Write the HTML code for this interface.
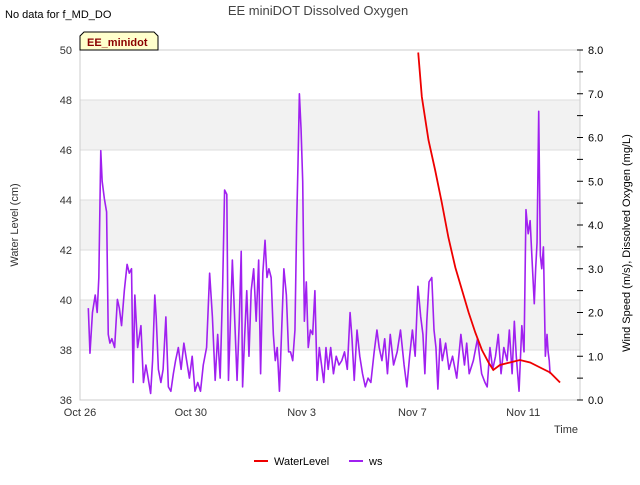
<!DOCTYPE html>
<html><head><meta charset="utf-8"><style>
body{margin:0;background:#fff;font-family:"Liberation Sans",sans-serif;}
</style></head><body>
<svg width="640" height="480" xmlns="http://www.w3.org/2000/svg" font-family="Liberation Sans, sans-serif">
<g id="bands"></g>
<g id="grid"></g>
<rect x="80" y="50" width="500" height="350" fill="none" stroke="#ccc"/>
<g id="axes"></g>
<g id="series"></g>
<text x="5" y="18" font-size="11" fill="#000">No data for f_MD_DO</text>
<text x="318" y="15" font-size="13" text-anchor="middle" fill="#444">EE miniDOT Dissolved Oxygen</text>
<g>
<path d="M80,50 L80,36 L84,32 L154,32 L158,36 L158,50 Z" fill="#ffffcc" stroke="#000" stroke-width="1"/>
<text x="87" y="46" font-size="11" font-weight="bold" fill="#8b0000">EE_minidot</text></g>
<text x="18" y="225" font-size="11" fill="#333" text-anchor="middle" transform="rotate(-90 18 225)">Water Level (cm)</text>
<text x="630" y="243" font-size="11" fill="#000" text-anchor="middle" transform="rotate(-90 630 243)">Wind Speed (m/s), Dissolved Oxygen (mg/L)</text>
<text x="578" y="433" font-size="11" fill="#333" text-anchor="end">Time</text>
<g>
<line x1="254" y1="461" x2="268" y2="461" stroke="#e00" stroke-width="2"/>
<text x="274" y="465" font-size="11" fill="#000">WaterLevel</text>
<line x1="349" y1="461" x2="363" y2="461" stroke="#a020f0" stroke-width="2"/>
<text x="369" y="465" font-size="11" fill="#000">ws</text></g>
</svg>
<script>
const xTickLabels=["Oct 26","Oct 30","Nov 3","Nov 7","Nov 11"];
const xTickDays=[0,4,8,12,16];
const leftTicks=[36,38,40,42,44,46,48,50];
const rightTicks=[0,1,2,3,4,5,6,7,8];
const wlDays=[12.21,12.34,12.58,12.82,13.06,13.30,13.55,13.79,14.03,14.27,14.51,14.75,14.92,15.16,15.52,15.88,16.25,16.61,16.97,17.33];
const wlVals=[49.9,48.13,46.4,45.2,43.9,42.5,41.3,40.4,39.5,38.7,38.0,37.5,37.2,37.4,37.5,37.6,37.5,37.3,37.1,36.7];
const wsDays=[0.3,0.36,0.45,0.55,0.62,0.68,0.75,0.8,0.88,0.96,1.02,1.08,1.15,1.25,1.35,1.42,1.5,1.6,1.7,1.78,1.86,1.92,1.98,2.08,2.2,2.29,2.38,2.46,2.55,2.62,2.7,2.75,2.83,2.92,3.0,3.1,3.19,3.28,3.37,3.45,3.55,3.65,3.75,3.85,3.95,4.05,4.15,4.25,4.35,4.45,4.57,4.68,4.78,4.88,4.97,5.06,5.15,5.22,5.3,5.36,5.42,5.5,5.6,5.67,5.75,5.82,5.87,5.94,6.02,6.1,6.18,6.27,6.36,6.45,6.52,6.6,6.68,6.75,6.82,6.9,6.98,7.05,7.12,7.2,7.28,7.36,7.45,7.53,7.6,7.68,7.76,7.82,7.87,7.92,7.98,8.04,8.1,8.17,8.24,8.32,8.4,8.48,8.56,8.64,8.72,8.8,8.88,8.96,9.05,9.15,9.25,9.35,9.45,9.55,9.65,9.75,9.82,9.9,10.0,10.1,10.2,10.3,10.4,10.5,10.62,10.72,10.8,10.9,11.0,11.1,11.2,11.32,11.45,11.57,11.7,11.8,11.9,12.0,12.1,12.2,12.3,12.38,12.45,12.52,12.6,12.7,12.78,12.85,12.92,13.0,13.08,13.2,13.32,13.45,13.6,13.75,13.88,13.96,14.05,14.2,14.35,14.5,14.62,14.7,14.8,14.9,15.0,15.1,15.2,15.3,15.42,15.5,15.6,15.68,15.75,15.85,15.95,16.03,16.1,16.18,16.25,16.32,16.4,16.45,16.5,16.56,16.62,16.67,16.73,16.8,16.86,16.9,16.94,16.97,17.03,17.1,17.16,17.22,17.28,17.33,17.39];
const wsVals=[2.1,1.07,2.0,2.4,2.0,2.8,5.7,5.0,4.6,4.3,1.5,1.3,1.4,1.2,2.3,2.1,1.7,2.5,3.1,2.9,3.0,0.4,2.4,1.2,1.7,0.4,0.8,0.5,0.15,0.9,2.4,1.9,0.7,0.4,0.7,1.9,0.3,0.2,0.6,0.9,1.2,0.7,1.3,0.9,0.5,1.0,0.2,0.4,0.2,0.8,1.2,2.9,1.9,0.45,1.5,0.5,2.6,4.8,4.7,0.45,1.6,3.2,1.6,0.45,1.8,3.4,0.3,1.4,2.5,1.0,2.5,3.0,1.8,3.2,0.6,2.9,3.65,2.8,3.0,2.8,1.5,0.9,1.2,0.2,1.6,3.0,2.4,1.1,1.1,0.9,1.6,4.0,5.4,7.0,6.2,5.0,1.8,2.7,1.2,1.6,1.5,2.5,0.45,1.2,0.8,0.4,1.2,0.7,1.2,0.6,1.0,0.8,0.9,1.1,0.7,2.0,1.4,0.45,1.6,1.0,0.6,0.3,0.5,0.4,1.1,1.6,1.2,0.9,1.4,0.6,1.5,0.8,1.1,1.6,0.8,0.3,1.0,1.6,1.0,2.6,1.9,1.5,0.6,1.8,2.7,2.8,1.6,1.2,0.25,1.4,0.9,1.3,0.7,1.0,0.5,1.5,0.8,1.3,0.6,0.9,1.4,0.6,0.4,0.3,1.2,0.7,1.0,1.5,0.6,1.2,0.9,1.6,0.6,1.8,1.0,0.2,1.7,1.1,4.35,3.8,4.1,3.2,2.2,3.0,3.6,6.6,3.3,3.0,3.5,1.0,1.5,1.1,0.9,0.6];
const NS='http://www.w3.org/2000/svg';
const X0=80,X1=580,Y0=400,Y1=50,DAYPX=110.8/4;
const xs=d=>X0+d*DAYPX;
const yl=v=>Y0-(v-36)*(Y0-Y1)/14;
const yr=v=>Y0-v*(Y0-Y1)/8;
function mk(tag,attrs,parent){const e=document.createElementNS(NS,tag);for(const k in attrs)e.setAttribute(k,attrs[k]);document.getElementById(parent).appendChild(e);return e;}
[[46,48],[42,44],[38,40]].forEach(b=>{const r=mk('rect',{x:X0,y:yl(b[1]),width:X1-X0,height:yl(b[0])-yl(b[1]),fill:'#f2f2f2'},'bands');

});
leftTicks.forEach(v=>{const l=mk('line',{x1:X0,x2:X1,y1:yl(v),y2:yl(v),stroke:'#ddd'},'grid');


const t=mk('text',{x:X0-8,y:yl(v)+4,'font-size':11,'text-anchor':'end',fill:'#333'},'axes');t.textContent=v;

});
rightTicks.forEach(v=>{const t=mk('text',{x:X1+8,y:yr(v)+4,'font-size':11,fill:'#000'},'axes');t.textContent=v.toFixed(1);


for(const h of [0,0.5]){if(v+h>8)continue;const k=mk('line',{x1:X1-3,x2:X1+3,y1:yr(v+h),y2:yr(v+h),stroke:'#000'},'axes');

}});
xTickDays.forEach((d,i)=>{const t=mk('text',{x:xs(d),y:Y0+16,'font-size':11,'text-anchor':'middle',fill:'#333'},'axes');t.textContent=xTickLabels[i];

});
const ws=mk('polyline',{points:wsDays.map((d,i)=>xs(d)+','+yr(wsVals[i])).join(' '),fill:'none',stroke:'#a020f0','stroke-width':1.6,'stroke-linejoin':'round'},'series');


const wl=mk('polyline',{points:wlDays.map((d,i)=>xs(d)+','+yl(wlVals[i])).join(' '),fill:'none',stroke:'#e00','stroke-width':1.8},'series');


</script>
</body></html>
